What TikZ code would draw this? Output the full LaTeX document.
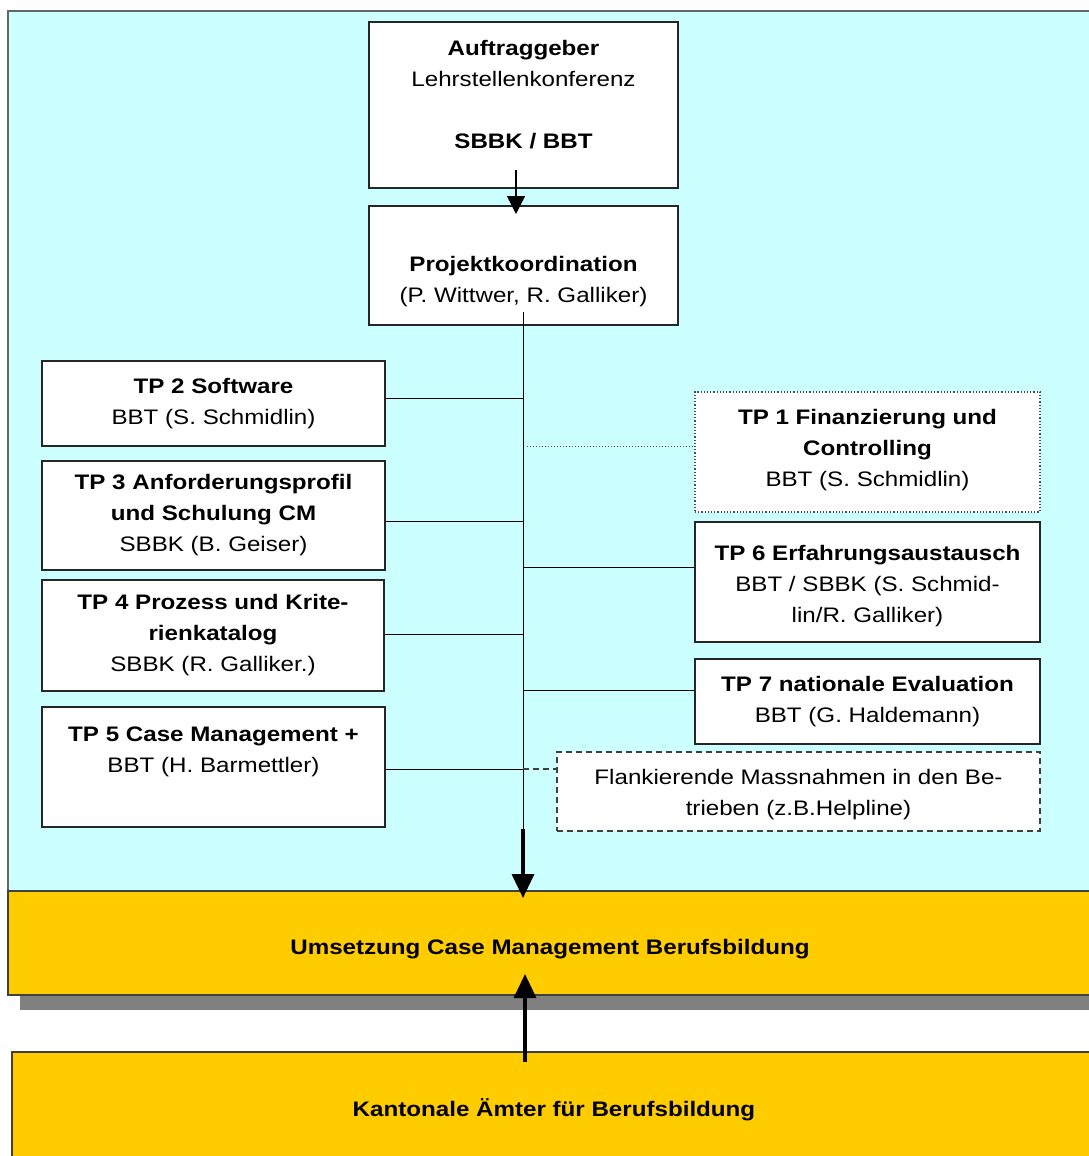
\documentclass[tikz,border=0pt]{standalone}
\usepackage{fontspec}
\setmainfont{Liberation Sans}[FakeStretch=1.15]
\usetikzlibrary{arrows.meta,calc}
\definecolor{cyanbg}{HTML}{CCFFFF}
\definecolor{orangebg}{HTML}{FFCC00}
\definecolor{shadowgray}{HTML}{808080}
\tikzset{
  wbox/.style={draw=black!85, fill=white, line width=1.2pt, inner sep=0pt, align=center, font=\fontsize{21}{31}\selectfont},
  txt/.style={inner sep=0pt, align=center, font=\fontsize{21}{31}\selectfont},
  conn/.style={draw=black, line width=1pt},
  bigarrow/.style={line width=3.5pt, -{Triangle[length=24pt,width=22pt]}},
}
\begin{document}
\begin{tikzpicture}[x=1pt,y=-1pt]
\useasboundingbox (0,0) rectangle (1089,1156);
\clip (0,0) rectangle (1089,1156);
% background panels
\fill[cyanbg] (8,11) rectangle (1100,892);
\draw[black!60, line width=2pt] (8,892) -- (8,11) -- (1100,11);
\fill[shadowgray] (20,995) rectangle (1100,1010);
\fill[orangebg] (8,891) rectangle (1100,995);
\draw[black!75, line width=1.5pt] (1100,891) -- (8,891) -- (8,995) -- (1100,995);
\fill[orangebg] (12,1052) rectangle (1100,1170);
\draw[black!75, line width=1.5pt] (1100,1052) -- (12,1052) -- (12,1170);

\node[txt, font=\fontsize{21}{31}\selectfont\bfseries] (umsetz) at (550,949) {Umsetzung Case Management Berufsbildung};
\node[txt, font=\fontsize{21}{31}\selectfont\bfseries] (kanton) at (554,1110) {Kantonale Ämter für Berufsbildung};

% top boxes
\node[wbox, minimum width=309pt, minimum height=166pt] (auftrag) at (523.5,105) {};
\node[txt] (auftragt) at (523.5,95) {\textbf{Auftraggeber}\\Lehrstellenkonferenz\\[31pt]\textbf{SBBK / BBT}};
\node[wbox, minimum width=309pt, minimum height=119pt] (projekt) at (523.5,265.5) {};
\node[txt] (projektt) at (523.5,282) {\textbf{Projektkoordination}\\(P. Wittwer, R. Galliker)};

% left boxes
\node[wbox, minimum width=343pt, minimum height=85pt] (tp2) at (213.5,403.5) {\textbf{TP 2 Software}\\BBT (S. Schmidlin)};
\node[wbox, minimum width=343pt, minimum height=109pt] (tp3) at (213.5,515.5) {\textbf{TP 3 Anforderungsprofil}\\\textbf{und Schulung CM}\\SBBK (B. Geiser)};
\node[wbox, minimum width=342pt, minimum height=111pt] (tp4) at (213,635.5) {\textbf{TP 4 Prozess und Krite-}\\\textbf{rienkatalog}\\SBBK (R. Galliker.)};
\node[wbox, minimum width=343pt, minimum height=120pt] (tp5) at (213.5,767) {};
\node[txt] (tp5t) at (213.5,752) {\textbf{TP 5 Case Management +}\\BBT (H. Barmettler)};

% right boxes
\node[wbox, draw=black!70, dotted, minimum width=345pt, minimum height=120pt] (tp1) at (867.5,452) {};
\node[txt] (tp1t) at (867.5,450) {\textbf{TP 1 Finanzierung und}\\\textbf{Controlling}\\BBT (S. Schmidlin)};
\node[wbox, minimum width=345pt, minimum height=120pt] (tp6) at (867.5,582) {};
\node[txt] (tp6t) at (867.5,586) {\textbf{TP 6 Erfahrungsaustausch}\\BBT / SBBK (S. Schmid-\\lin/R. Galliker)};
\node[wbox, minimum width=345pt, minimum height=85pt] (tp7) at (867.5,701.5) {\textbf{TP 7 nationale Evaluation}\\BBT (G. Haldemann)};
\node[wbox, draw=black!75, dash pattern=on 6pt off 4pt, minimum width=483pt, minimum height=79pt] (flank) at (798.5,791.5) {};
\node[txt] (flankt) at (798.5,795) {Flankierende Massnahmen in den Be-\\trieben (z.B.Helpline)};

% spine coordinates
\coordinate (s0) at (523,312);
\coordinate (send) at (523,829);
\coordinate (j2) at (523,398);
\coordinate (j1) at (527,446);
\coordinate (j3) at (523,521);
\coordinate (j6) at (523,567);
\coordinate (j4) at (523,634);
\coordinate (j7) at (523,690);
\coordinate (j5) at (523,769);
\coordinate (atop) at (516,170);
\coordinate (atip) at (516,214);
\coordinate (dtip) at (523,898);
\coordinate (ubot) at (525,1062);
\coordinate (utip) at (525,974);

% connectors
\draw[line width=1.3pt, -{Triangle[length=18pt,width=18pt]}] (atop) -- (atip);
\draw[conn] (s0) -- (send);
\draw[conn] (j2 -| tp2.east) -- (j2);
\draw[conn] (j3 -| tp3.east) -- (j3);
\draw[conn] (j4 -| tp4.east) -- (j4);
\draw[conn] (j5 -| tp5.east) -- (j5);
\draw[conn] (j6) -- (j6 -| tp6.west);
\draw[conn] (j7) -- (j7 -| tp7.west);
\draw[black!70, line width=1pt, dotted] (j1) -- (j1 -| tp1.west);
\draw[black!75, line width=1.2pt, dash pattern=on 6pt off 4pt] (j5) -- (j5 -| flank.west);
\draw[bigarrow] (send) -- (dtip);
\draw[bigarrow] (ubot) -- (utip);
\end{tikzpicture}
\end{document}
